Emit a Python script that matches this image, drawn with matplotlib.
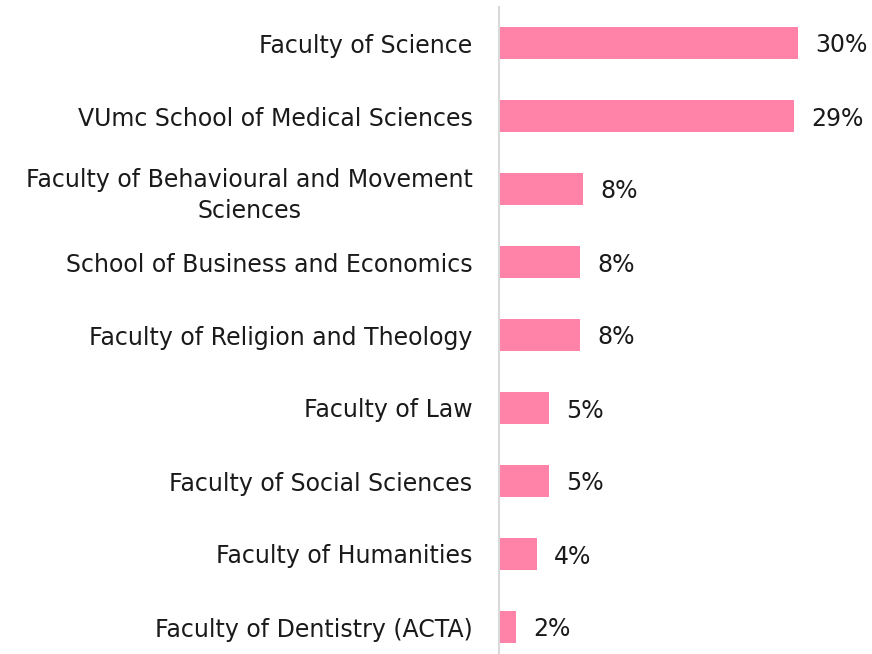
import matplotlib.pyplot as plt

plt.rcParams['font.family'] = ['DejaVu Sans']

faculties = [
    "Faculty of Science",
    "VUmc School of Medical Sciences",
    "Faculty of Behavioural and Movement\nSciences",
    "School of Business and Economics",
    "Faculty of Religion and Theology",
    "Faculty of Law",
    "Faculty of Social Sciences",
    "Faculty of Humanities",
    "Faculty of Dentistry (ACTA)",
]
shares = [29.9, 29.5, 8.4, 8.1, 8.1, 5.0, 5.0, 3.8, 1.7]
share_labels = ["30%", "29%", "8%", "8%", "8%", "5%", "5%", "4%", "2%"]

fs = 17

fig = plt.figure(figsize=(8.72, 6.54), dpi=100)
ax = fig.add_axes([499 / 872, -9.5 / 654, 373 / 872, 657 / 654])

ypos = range(len(faculties))
ax.barh(ypos, shares, height=0.44, color="#FF82A9")

for y, v, lab in zip(ypos, shares, share_labels):
    ax.text(v + 1.7, y, lab, va="center_baseline", ha="left", fontsize=fs, color="#1a1a1a")

ax.set_yticks(list(ypos))
ax.set_yticklabels(faculties, fontsize=fs, color="#1a1a1a", linespacing=1.4)
ax.tick_params(axis="y", length=0, pad=19)
ax.set_xticks([])
ax.set_xlim(0, 37.3)
ax.set_ylim(len(faculties) - 0.5, -0.5)

for s in ["top", "right", "bottom"]:
    ax.spines[s].set_visible(False)
ax.spines["left"].set_color("#D9D9D9")
ax.spines["left"].set_linewidth(1.5)

for t in ax.get_yticklabels():
    t.set_multialignment("center")

fig.savefig("out.png", dpi=100)
